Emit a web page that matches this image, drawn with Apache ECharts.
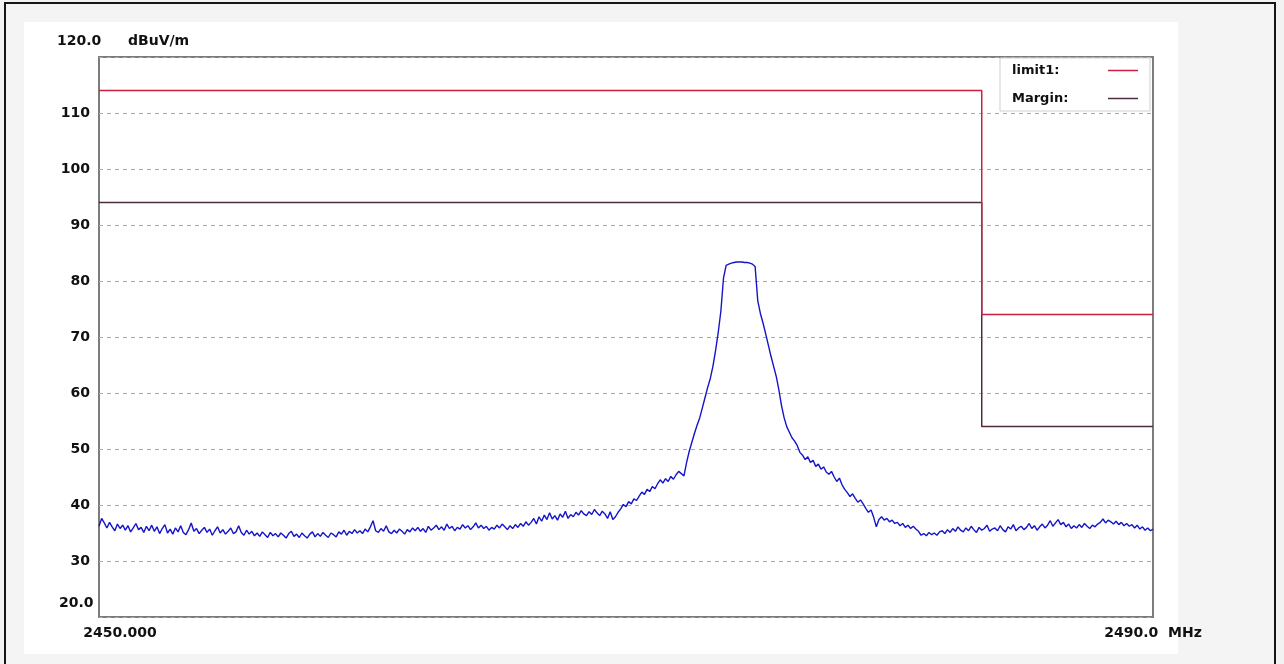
<!DOCTYPE html>
<html>
<head>
<meta charset="utf-8">
<script src="https://cdn.jsdelivr.net/npm/echarts@6/dist/echarts.min.js"></script>
<style>
  html, body { margin: 0; padding: 0; background: #f2f2f2; }
  #frame { position: absolute; left: 4px; top: 2px; width: 1272px; height: 700px; border: 2px solid #151515; box-sizing: border-box; background: #f4f4f4; }
  #panel { position: absolute; left: 24px; top: 22px; width: 1154px; height: 632px; background: #ffffff; }
  #chart { position: absolute; left: 0; top: 0; width: 1284px; height: 664px; }
</style>
</head>
<body>
<div id="frame"></div>
<div id="panel"></div>
<div id="chart"></div>
<script>
// ---- data ----
const freqStart = 2450.0;   // MHz
const freqStep = 0.1;       // MHz between trace samples
const traceValues = [
  36.2, 37.6, 36.8, 35.9, 36.9, 36.1, 35.4, 36.6, 35.8, 36.4,
  35.5, 36.3, 35.2, 35.9, 36.7, 35.6, 36.0, 35.1, 36.2, 35.4,
  36.4, 35.3, 36.1, 34.9, 35.8, 36.5, 35.0, 35.7, 34.8, 35.9,
  35.2, 36.3, 35.1, 34.7, 35.6, 36.8, 35.3, 35.8, 34.9, 35.5,
  36.0, 35.1, 35.7, 34.6, 35.4, 36.1, 35.0, 35.6, 34.8, 35.3,
  35.9, 34.9, 35.2, 36.3, 35.1, 34.6, 35.5, 34.8, 35.3, 34.5,
  35.0, 34.4, 35.2, 34.7, 34.2, 35.1, 34.5, 34.9, 34.3, 35.0,
  34.6, 34.1, 34.9, 35.3, 34.4, 34.8, 34.2, 35.0, 34.5, 34.1,
  34.8, 35.2, 34.3, 34.9, 34.4, 35.1, 34.6, 34.2, 35.0, 34.7,
  34.3, 35.2, 34.8, 35.5, 34.6, 35.3, 34.9, 35.6, 35.0, 35.4,
  34.9, 35.7, 35.2, 36.1, 37.2, 35.4, 35.1, 35.8, 35.3, 36.3,
  35.2, 34.9, 35.5, 35.0, 35.7, 35.3, 34.8, 35.6, 35.2, 35.9,
  35.4, 36.0, 35.3, 35.8, 35.1, 36.2, 35.5, 35.9, 36.4, 35.6,
  36.1, 35.5, 36.6, 35.8, 36.2, 35.4, 36.0, 35.7, 36.5, 35.9,
  36.3, 35.6, 36.1, 36.8, 35.9, 36.4, 35.8, 36.2, 35.5, 36.0,
  35.7, 36.4, 35.9, 36.6, 36.1, 35.6, 36.3, 35.8, 36.5, 36.0,
  36.7, 36.2, 37.0, 36.4, 36.9, 37.6, 36.6, 37.9, 37.1, 38.2,
  37.4, 38.6, 37.5, 38.1, 37.3, 38.4, 37.8, 38.9, 37.6, 38.3,
  37.9, 38.7, 38.2, 39.0, 38.4, 38.1, 38.8, 38.3, 39.2, 38.6,
  38.1, 38.9, 38.4, 37.6, 38.8, 37.4, 37.9, 38.7, 39.3, 40.1,
  39.7, 40.6, 40.2, 41.1, 40.8, 41.6, 42.3, 41.9, 42.8, 42.4,
  43.3, 42.9, 43.8, 44.5, 43.9, 44.7, 44.2, 45.1, 44.6, 45.4,
  46.0, 45.6, 45.2, 47.6, 49.6, 51.2, 52.8, 54.3, 55.6, 57.4,
  59.2, 61.0, 62.6, 64.8, 67.6, 70.8, 74.6, 80.5, 82.8, 83.0,
  83.2, 83.3, 83.4, 83.4, 83.4, 83.3, 83.3, 83.2, 83.0, 82.6,
  76.5, 74.2, 72.5, 70.6, 68.6, 66.6, 64.8, 63.0, 60.6, 57.8,
  55.6, 54.0, 53.0, 52.0, 51.4, 50.6, 49.4, 48.9, 48.1, 48.6,
  47.6, 48.0, 46.9, 47.3, 46.4, 46.8, 45.9, 45.5, 46.0, 45.0,
  44.2, 44.8, 43.6, 42.8, 42.2, 41.5, 42.0, 41.2, 40.5, 40.9,
  40.2, 39.4, 38.7, 39.1, 37.8, 36.1, 37.4, 37.9, 37.3, 37.6,
  37.0, 37.3, 36.7, 36.9, 36.3, 36.7, 36.0, 36.4, 35.8, 36.2,
  35.7, 35.3, 34.6, 34.9, 34.5, 35.1, 34.7, 35.0, 34.6, 35.2,
  35.4, 34.9, 35.6, 35.1, 35.8, 35.3, 36.1, 35.5, 35.2, 35.9,
  35.4, 36.2, 35.6, 35.1, 36.0, 35.5, 35.8, 36.4, 35.3, 35.7,
  35.9, 35.4, 36.3, 35.6, 35.2, 36.1, 35.7, 36.5, 35.4, 35.9,
  36.2, 35.6, 36.0, 36.7, 35.8, 36.3, 35.5, 36.1, 36.6, 35.9,
  36.4, 37.2, 36.2, 36.8, 37.4, 36.5, 36.9, 36.1, 36.6, 35.8,
  36.3, 35.9, 36.5, 36.0, 36.7, 36.2, 35.8, 36.4, 36.1, 36.6,
  36.9, 37.5, 36.8, 37.3, 37.0, 36.6, 37.1, 36.5, 36.9, 36.3,
  36.7, 36.2, 36.5, 35.9, 36.4, 35.7, 36.1, 35.5, 35.9, 35.4,
  35.7
];
const limitFreq   = [2450, 2483.5, 2483.5, 2490];
const limitValues = [114, 114, 74, 74];
const marginFreq   = [2450, 2483.5, 2483.5, 2490];
const marginValues = [94, 94, 54, 54];
const xMin = 2450, xMax = 2490;
const yMin = 20, yMax = 120, yStep = 10;
const xLabelLeft = '2450.000';
const xLabelRight = '2490.0  MHz';
const yTopLabel = '120.0';
const yBottomLabel = '20.0';
const yUnit = 'dBuV/m';
const legendNames = ['limit1:', 'Margin:'];

// ---- build ----
const tracePairs = traceValues.map((v, i) => [+(freqStart + i * freqStep).toFixed(1), v]);
const zip = (a, b) => a.map((x, i) => [x, b[i]]);
const FONT = 'DejaVu Sans';

const chart = echarts.init(document.getElementById('chart'), null, { renderer: 'canvas' });
chart.setOption({
  backgroundColor: 'transparent',
  animation: false,
  grid: {
    left: 99, right: 131, top: 57, bottom: 47,
    show: true, backgroundColor: '#ffffff', borderColor: '#7c7c7c', borderWidth: 2
  },
  xAxis: {
    type: 'value', min: xMin, max: xMax, interval: xMax - xMin,
    axisLine: { show: false },
    axisTick: { show: false },
    splitLine: { show: false },
    axisLabel: {
      margin: 9, color: '#111', fontFamily: FONT, fontWeight: 'bold', fontSize: 14,
      formatter: v => v === xMin ? '{a|' + xLabelLeft + '}' : '{b|' + xLabelRight + '}',
      rich: {
        a: { fontFamily: FONT, fontWeight: 'bold', fontSize: 14, color: '#111', padding: [0, 0, 0, 42] },
        b: { fontFamily: FONT, fontWeight: 'bold', fontSize: 14, color: '#111', padding: [0, 0, 0, 0] }
      }
    }
  },
  yAxis: {
    type: 'value', min: yMin, max: yMax, interval: yStep,
    axisLine: { show: false },
    axisTick: { show: false },
    splitLine: {
      show: true,
      lineStyle: { color: '#a9a9a9', type: [4, 4], width: 1 }
    },
    axisLabel: {
      margin: 9, color: '#111', fontFamily: FONT, fontWeight: 'bold', fontSize: 14,
      formatter: v => (v === yMin || v === yMax) ? '' : String(v)
    }
  },
  legend: {
    data: legendNames,
    orient: 'vertical', left: 1000, top: 58,
    align: 'right',
    icon: 'rect',
    padding: [6, 12, 6, 12],
    itemGap: 15, itemWidth: 30, itemHeight: 1.5,
    backgroundColor: '#ffffff', borderColor: '#cfcfcf', borderWidth: 1,
    formatter: name => '{n|' + name + '}',
    textStyle: {
      fontFamily: FONT, fontWeight: 'bold', fontSize: 13, color: '#111',
      rich: { n: { width: 91, align: 'left', lineHeight: 14, fontFamily: FONT, fontWeight: 'bold', fontSize: 13, color: '#111' } }
    },
    selectedMode: false
  },
  graphic: [
    { type: 'text', left: 57, top: 34, style: { text: yTopLabel, fontFamily: FONT, fontWeight: 'bold', fontSize: 14, fill: '#111' } },
    { type: 'text', left: 128, top: 34, style: { text: yUnit, fontFamily: FONT, fontWeight: 'bold', fontSize: 14, fill: '#111' } },
    { type: 'text', left: 59, top: 596, style: { text: yBottomLabel, fontFamily: FONT, fontWeight: 'bold', fontSize: 14, fill: '#111' } }
  ],
  series: [
    {
      name: 'trace', type: 'line', data: tracePairs, symbol: 'none',
      lineStyle: { color: '#1414c8', width: 1.4 }, z: 3
    },
    {
      name: legendNames[1], type: 'line', data: zip(marginFreq, marginValues), symbol: 'none',
      color: '#4e2c40',
      lineStyle: { color: '#4e2c40', width: 1.5 }, z: 4
    },
    {
      name: legendNames[0], type: 'line', data: zip(limitFreq, limitValues), symbol: 'none',
      color: '#cc1e40',
      lineStyle: { color: '#cc1e40', width: 1.5 }, z: 5
    }
  ]
});
</script>
</body>
</html>
